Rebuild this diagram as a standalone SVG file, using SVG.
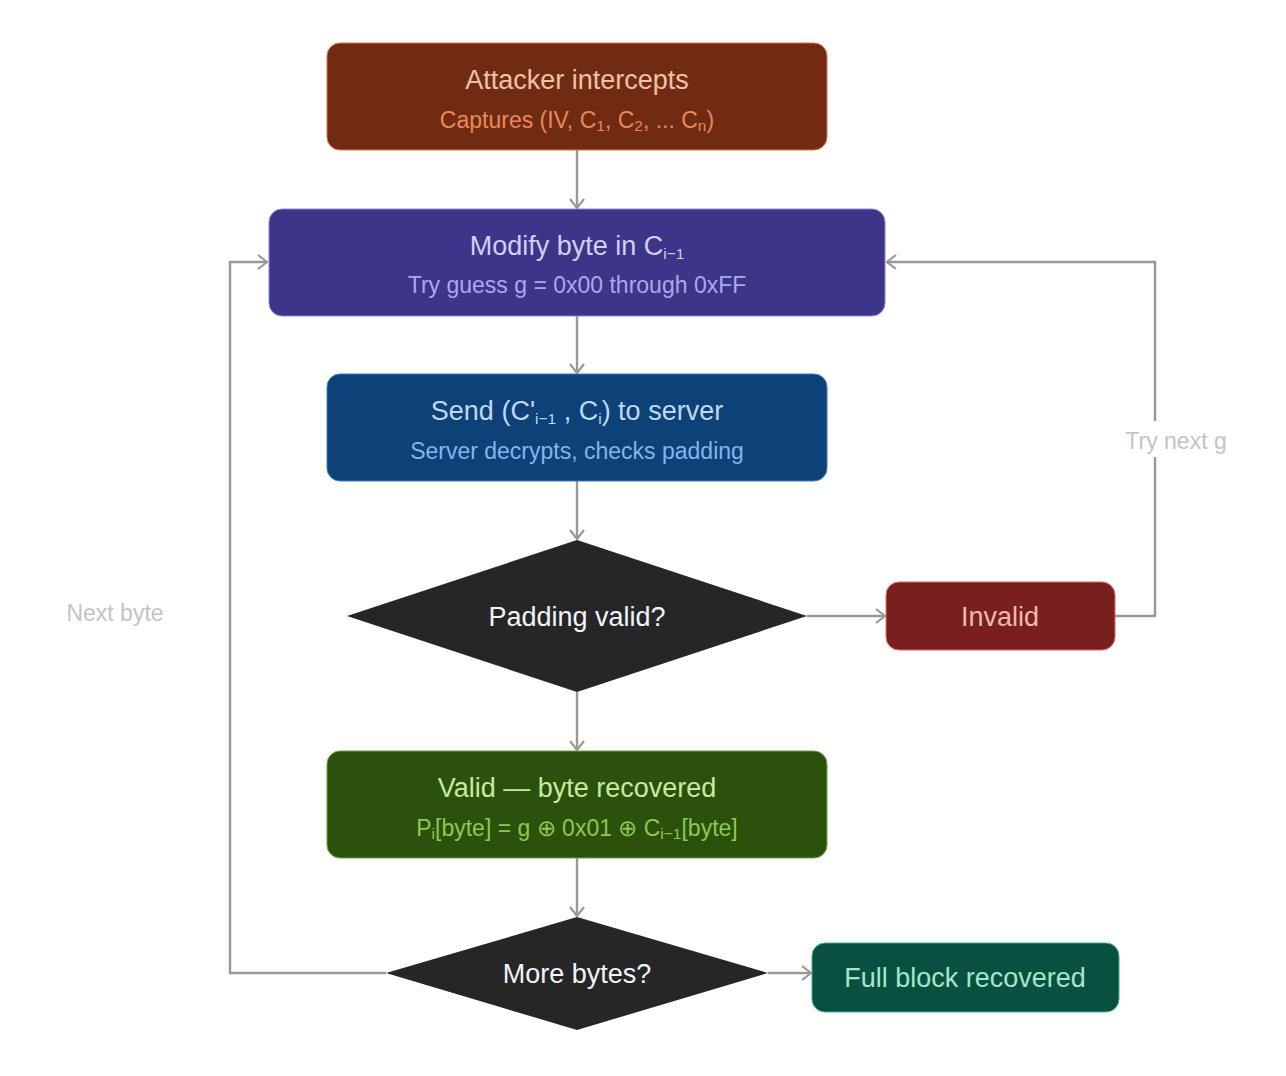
<svg xmlns="http://www.w3.org/2000/svg" width="1286" height="1076" viewBox="0 0 1286 1076">
<defs>
<marker id="arr" markerUnits="userSpaceOnUse" markerWidth="14" markerHeight="16" refX="11" refY="8" orient="auto">
<path d="M2,1 L11,8 L2,15" fill="none" stroke="#9a9894" stroke-width="2.2"/>
</marker>
<style>
text{font-family:"Liberation Sans",Arial,sans-serif;text-anchor:middle}
.t{font-size:27px}
.s{font-size:23px}
.sub{font-size:15.5px}
.c{fill:none;stroke:#9a9894;stroke-width:2.4}
.lbl{font-size:23px;fill:#c8c3bd}
</style>
</defs>
<rect width="1286" height="1076" fill="#ffffff"/>
<g id="connectors">
<path class="c" d="M577,150 V208" marker-end="url(#arr)"/>
<path class="c" d="M577,316 V373" marker-end="url(#arr)"/>
<path class="c" d="M577,481 V539" marker-end="url(#arr)"/>
<path class="c" d="M807,616 H885" marker-end="url(#arr)"/>
<path class="c" d="M577,692 V750" marker-end="url(#arr)"/>
<path class="c" d="M577,858 V916" marker-end="url(#arr)"/>
<path class="c" d="M768,973 H811" marker-end="url(#arr)"/>
<path class="c" d="M1115,616 H1155 V262 H887" marker-end="url(#arr)"/>
<path class="c" d="M386,973 H230 V262 H267" marker-end="url(#arr)"/>
<rect x="1120" y="421" width="112" height="36" fill="#ffffff"/>
<text class="lbl" x="1176" y="449">Try next g</text>
<text class="lbl" x="115" y="621">Next byte</text>
</g>
<g id="attacker">
<rect x="327" y="43" width="500" height="107" rx="13" fill="#722b13" stroke="#d9744a" stroke-width="1"/>
<text class="t" x="577" y="89" fill="#f2c0a8">Attacker intercepts</text>
<text class="s" x="577" y="128" fill="#e8895a">Captures (IV, C<tspan class="sub" dy="3">1</tspan><tspan dy="-3">, C</tspan><tspan class="sub" dy="3">2</tspan><tspan dy="-3">, ... C</tspan><tspan class="sub" dy="3">n</tspan><tspan dy="-3">)</tspan></text>
</g>
<g id="modify">
<rect x="269" y="209" width="616" height="107" rx="13" fill="#3d3587" stroke="#8d86e0" stroke-width="1"/>
<text class="t" x="577" y="255" fill="#cfd0f8">Modify byte in C<tspan class="sub" dy="4">i−1</tspan></text>
<text class="s" x="577" y="293" fill="#aaa8ee">Try guess g = 0x00 through 0xFF</text>
</g>
<g id="send">
<rect x="327" y="374" width="500" height="107" rx="13" fill="#0d4178" stroke="#3a7cc4" stroke-width="1"/>
<text class="t" x="577" y="420" fill="#bcd9f6">Send (C'<tspan class="sub" dy="4">i−1</tspan><tspan dy="-4"> , C</tspan><tspan class="sub" dy="4">i</tspan><tspan dy="-4">) to server</tspan></text>
<text class="s" x="577" y="459" fill="#82b6ea">Server decrypts, checks padding</text>
</g>
<g id="padding">
<polygon points="577,540 807,616 577,692 347,616" fill="#262626"/>
<text class="t" x="577" y="626" fill="#f2f4fa">Padding valid?</text>
</g>
<g id="invalid">
<rect x="886" y="582" width="229" height="68" rx="13" fill="#7a1f1f" stroke="#e06a6a" stroke-width="1"/>
<text class="t" x="1000" y="626" fill="#f2b8b0">Invalid</text>
</g>
<g id="valid">
<rect x="327" y="751" width="500" height="107" rx="13" fill="#2a520c" stroke="#6aa83a" stroke-width="1"/>
<text class="t" x="577" y="797" fill="#c8eaa0">Valid — byte recovered</text>
<text class="s" x="577" y="836" fill="#90c850">P<tspan class="sub" dy="3">i</tspan><tspan dy="-3">[byte] = g ⊕ 0x01 ⊕ C</tspan><tspan class="sub" dy="3">i−1</tspan><tspan dy="-3">[byte]</tspan></text>
</g>
<g id="more">
<polygon points="577,917 768,973 577,1030 386,973" fill="#262626"/>
<text class="t" x="577" y="983" fill="#f2f4fa">More bytes?</text>
</g>
<g id="full">
<rect x="812" y="943" width="307" height="69" rx="13" fill="#0a5040" stroke="#3fb08a" stroke-width="1"/>
<text class="t" x="965" y="987" fill="#a0e8c8">Full block recovered</text>
</g>
</svg>
